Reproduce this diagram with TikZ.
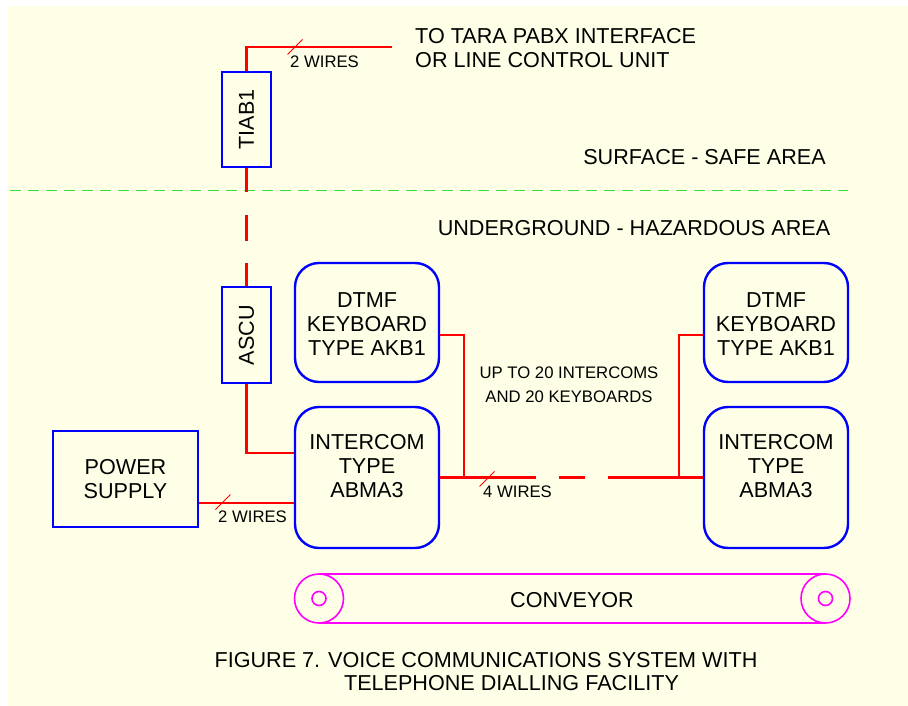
\documentclass[tikz,border=0pt]{standalone}
\usepackage{fontspec}
\setmainfont{Liberation Sans}
\definecolor{bgyellow}{RGB}{255,255,232}
\definecolor{sepgreen}{RGB}{60,220,60}
\definecolor{wirered}{RGB}{255,0,0}
\definecolor{boxblue}{RGB}{0,0,255}
\definecolor{convmag}{RGB}{255,0,255}
\tikzset{
  box/.style={draw=boxblue, line width=2.4pt, inner sep=0pt},
  rbox/.style={box, rounded corners=24pt, minimum width=144pt},
  wire/.style={draw=wirered, line width=2.2pt},
  tickmark/.style={draw=wirered, line width=0.8pt},
  txt/.style={font=\fontsize{21.6}{24}\selectfont, align=center, inner sep=0pt, text=black},
  smalltxt/.style={font=\fontsize{16.7}{24}\selectfont, align=center, inner sep=0pt, text=black},
  conv/.style={draw=convmag, line width=1.6pt},
}
\begin{document}
\begin{tikzpicture}[x=1pt,y=-1pt]
\useasboundingbox (0,0) rectangle (908,706);
\fill[bgyellow] (8,6) rectangle (908,706);

% separator
\draw[sepgreen, line width=1pt, dash pattern=on 11pt off 7pt] (10,191) -- (848,191);

% boxes
\node[box, minimum width=49pt, minimum height=95pt] (tiab) at (246.5,119.5) {};
\node[txt, rotate=90] (tiabt) at (tiab.center) {TIAB1};
\node[box, minimum width=49pt, minimum height=96pt] (ascu) at (246.5,335) {};
\node[txt, rotate=90] (ascut) at (ascu.center) {ASCU};
\node[box, txt, minimum width=145pt, minimum height=96pt] (ps) at (125.5,479) {POWER\\SUPPLY};

\node[rbox, minimum height=119pt] (dtmf1) at (367,322.5) {};
\node[txt] (dtmf1t) at (367,324) {DTMF\\KEYBOARD\\TYPE AKB1};
\node[rbox, minimum height=141pt] (int1) at (367,477.5) {};
\node[txt] (int1t) at (367,466) {INTERCOM\\TYPE\\ABMA3};

\node[rbox, minimum height=119pt] (dtmf2) at (776,322.5) {};
\node[txt] (dtmf2t) at (776,324) {DTMF\\KEYBOARD\\TYPE AKB1};
\node[rbox, minimum height=141pt] (int2) at (776,477.5) {};
\node[txt] (int2t) at (776,466) {INTERCOM\\TYPE\\ABMA3};

% wires
\coordinate (topend) at (392,47);
\draw[wire] (tiab.north) |- (topend);
\draw[wire, dash pattern=on 24pt off 23pt on 26pt off 22pt on 40pt] (tiab.south) -- (ascu.north);
\draw[wire] (ascu.south) |- ([yshift=24.5pt]int1.west);
\draw[wire] ([yshift=-24pt]ps.east) -- ([yshift=-24pt]ps.east -| int1.west);
\draw[wire] ([yshift=-12.5pt]dtmf1.east) -| ([xshift=24pt]int1.east);
\draw[wire, dash pattern=on 96pt off 23pt on 26pt off 23pt on 200pt] (int1.east) -- (int2.west);
\draw[wire] ([yshift=-12.5pt]dtmf2.west) -| ([xshift=-24pt]int2.west);

% wire count ticks
\draw[tickmark] (287.5,54.5) -- (302.5,39.5);
\draw[tickmark] (215.5,509.5) -- (230.5,494.5);
\draw[tickmark] (479.5,486.5) -- (494.5,471.5);

% labels
\node[smalltxt, anchor=west] (w1) at (290,62) {2 WIRES};
\node[smalltxt, anchor=west] (w2) at (218,517) {2 WIRES};
\node[smalltxt, anchor=west] (w3) at (483,492) {4 WIRES};
\node[smalltxt] (upto) at (569,385) {UP TO 20 INTERCOMS\\AND 20 KEYBOARDS};

\node[txt, align=left, anchor=west] (tara) at (415,48) {TO TARA PABX INTERFACE\\OR LINE CONTROL UNIT};
\node[txt] (surf) at (704.5,157) {SURFACE - SAFE AREA};
\node[txt] (under) at (634,228) {UNDERGROUND - HAZARDOUS AREA};

% conveyor
\draw[conv] (319,574) -- (825.5,574);
\draw[conv] (319,623) -- (825.5,623);
\draw[conv] (319,598.5) circle[radius=24.5pt];
\draw[conv] (319,598.5) circle[radius=7pt];
\draw[conv] (825.5,598.5) circle[radius=24.5pt];
\draw[conv] (825.5,598.5) circle[radius=7pt];
\node[txt] (convt) at (572,600) {CONVEYOR};

% caption
\node[txt] (cap1) at (486,660) {FIGURE 7. VOICE COMMUNICATIONS SYSTEM WITH};
\node[txt] (cap2) at (511.5,683) {TELEPHONE DIALLING FACILITY};
\end{tikzpicture}
\end{document}
